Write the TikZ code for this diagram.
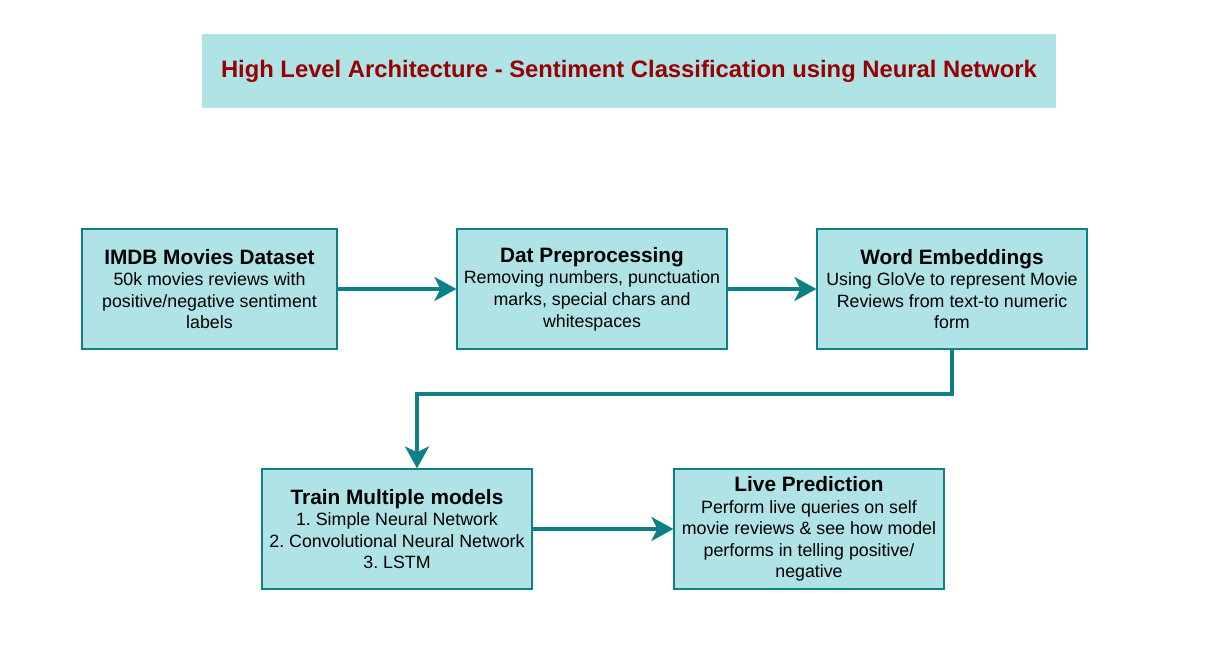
\documentclass[tikz,border=0pt]{standalone}
\usepackage{fontspec}
\setmainfont{Liberation Sans}
\usetikzlibrary{arrows.meta}
\definecolor{boxfill}{HTML}{B0E3E6}
\definecolor{boxline}{HTML}{0E8088}
\definecolor{titlered}{HTML}{990000}
\tikzset{
  stagebox/.style={draw=boxline, fill=boxfill, line width=1.2pt, minimum width=270pt, minimum height=120pt, align=center, inner sep=2pt, font=\fontsize{17.8}{21.6}\selectfont\frenchspacing},
  flow/.style={draw=boxline, line width=3.5pt, -{Stealth[length=22pt, width=24pt, inset=6pt]}},
}
\newcommand{\hd}[1]{{\fontsize{20.8}{22}\selectfont\bfseries #1}}
\begin{document}
\frenchspacing
\begin{tikzpicture}[x=1pt, y=-1pt]
\useasboundingbox (0,0) rectangle (1216,664);
\node[fill=boxfill, minimum width=854pt, minimum height=74pt, inner sep=0pt, text=titlered, font=\fontsize{23.8}{26}\selectfont\bfseries] (title) at (629,71) {High Level Architecture - Sentiment Classification using Neural Network};
\node[stagebox, minimum width=255pt] (imdb) at (209.5,289) {\hd{IMDB Movies Dataset}\\50k movies reviews with\\positive/negative sentiment\\labels};
\node[stagebox] (prep) at (592,289) {\hd{Dat Preprocessing}\\Removing numbers, punctuation\\marks, special chars and\\whitespaces};
\node[stagebox] (emb) at (952,289) {\hd{Word Embeddings}\\Using GloVe to represent Movie\\Reviews from text-to numeric\\form};
\node[stagebox] (train) at (397,529) {\hd{Train Multiple models}\\1. Simple Neural Network\\2. Convolutional Neural Network\\3. LSTM};
\node[stagebox] (live) at (809,529) {\hd{Live Prediction}\\Perform live queries on self\\movie reviews \& see how model\\performs in telling positive/\\negative};
\coordinate (bend1) at (952,394);
\coordinate (bend2) at (417,394);
\draw[flow] (imdb.east) -- (prep.west);
\draw[flow] (prep.east) -- (emb.west);
\draw[flow] (emb.south) -- (bend1) -- (bend2) -- (bend2 |- train.north);
\draw[flow] (train.east) -- (live.west);
\end{tikzpicture}
\end{document}
